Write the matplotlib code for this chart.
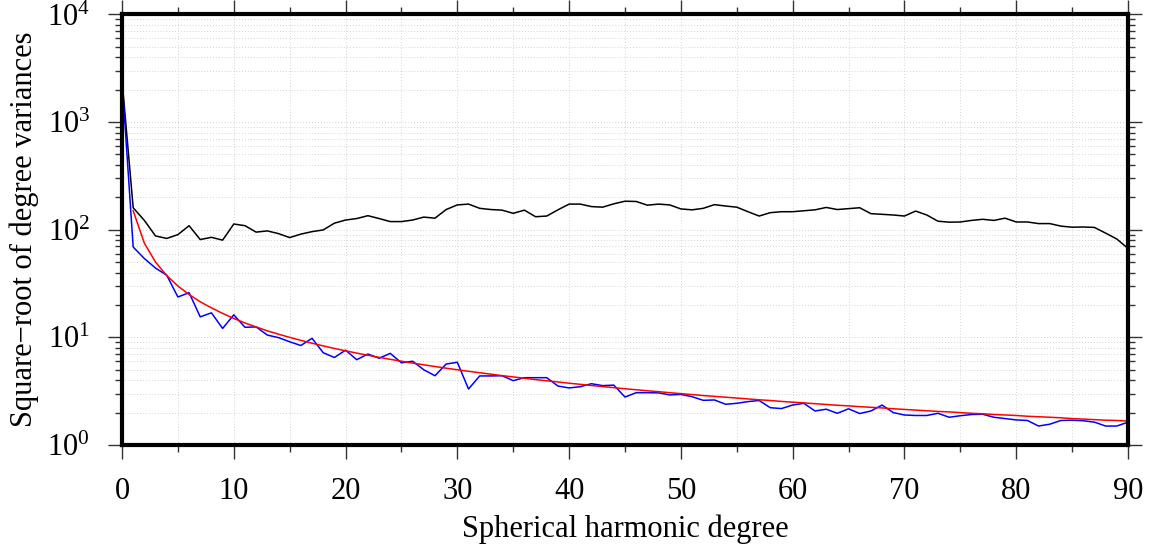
import numpy as np
import matplotlib
matplotlib.use("Agg")
import matplotlib.pyplot as plt
from matplotlib.ticker import LogLocator, MultipleLocator, NullFormatter

# Réglages police (style GMT / Times)
plt.rcParams['font.family'] = ['Liberation Serif', 'DejaVu Serif']
plt.rcParams['mathtext.fontset'] = 'custom'
plt.rcParams['mathtext.rm'] = 'Liberation Serif'
plt.rcParams['mathtext.it'] = 'Liberation Serif:italic'

# Degrés harmoniques
degres = list(range(0, 91))

# Courbe noire (signal)
signal = [2470, 160, 122, 87.5, 83, 90, 109, 81, 85, 80,
          113, 109, 95, 97.5, 92, 84.5, 91, 96, 99.5, 115,
          123, 127, 135, 127, 119, 119, 123, 131, 128, 154,
          170, 173, 158, 154, 152, 142, 152, 132, 134, 153,
          173, 173, 164, 162, 174, 184, 183, 169, 173, 170,
          156, 153, 158, 171, 166, 162, 147, 134, 144, 147,
          147, 150, 153, 161, 154, 157, 160, 141, 139, 137,
          134, 149, 137, 120, 117.5, 118, 122, 125, 122, 128,
          118, 118, 114, 114, 108, 105.5, 106, 105, 93, 82, 67]

# Courbe bleue (erreurs)
erreur = [2470, 69, 54, 44, 37.8, 23.7, 26, 15.5, 16.9, 12.1,
          16.2, 12.4, 12.5, 10.5, 9.94, 9.1, 8.4, 9.8, 7.2, 6.5,
          7.6, 6.2, 7.0, 6.4, 7.1, 5.8, 6.0, 5.0, 4.4, 5.65,
          5.87, 3.31, 4.38, 4.38, 4.4, 3.96, 4.22, 4.22, 4.22, 3.53,
          3.39, 3.48, 3.71, 3.56, 3.6, 2.79, 3.06, 3.06, 3.05, 2.92,
          2.95, 2.81, 2.60, 2.62, 2.39, 2.44, 2.53, 2.59, 2.22, 2.18,
          2.35, 2.44, 2.07, 2.15, 1.97, 2.17, 1.96, 2.07, 2.35, 2.0,
          1.90, 1.88, 1.88, 1.97, 1.81, 1.87, 1.92, 1.93, 1.81, 1.76,
          1.71, 1.69, 1.50, 1.56, 1.69, 1.70, 1.68, 1.63, 1.50, 1.50, 1.63]

# Courbe rouge (règle de Kaula), à partir du degré 1
kaula = [150, 75, 50, 37.5, 30, 25, 21.4, 18.8, 16.7, 15,
         13.6, 12.5, 11.5, 10.7, 10, 9.38, 8.82, 8.33, 7.89, 7.5,
         7.14, 6.82, 6.52, 6.25, 6.0, 5.77, 5.56, 5.36, 5.17, 5.0,
         4.84, 4.69, 4.55, 4.41, 4.29, 4.17, 4.05, 3.95, 3.85, 3.75,
         3.66, 3.57, 3.49, 3.41, 3.33, 3.26, 3.19, 3.13, 3.06, 3.0,
         2.94, 2.88, 2.83, 2.78, 2.73, 2.68, 2.63, 2.59, 2.54, 2.5,
         2.46, 2.42, 2.38, 2.34, 2.31, 2.27, 2.24, 2.21, 2.17, 2.14,
         2.11, 2.08, 2.05, 2.03, 2.0, 1.97, 1.95, 1.92, 1.90, 1.88,
         1.85, 1.83, 1.81, 1.79, 1.76, 1.74, 1.72, 1.70, 1.69, 1.67]

fig = plt.figure(figsize=(11.51, 5.45), dpi=100)
ax = fig.add_axes([0.106, 0.1835, 0.874, 0.79])

ax.set_yscale('log')
ax.set_xlim(0, 90)
ax.set_ylim(1, 1e4)

# Grille pointillée
ax.xaxis.set_major_locator(MultipleLocator(10))
ax.xaxis.set_minor_locator(MultipleLocator(5))
ax.yaxis.set_major_locator(LogLocator(base=10, numticks=10))
ax.yaxis.set_minor_locator(LogLocator(base=10, subs=np.arange(2, 10), numticks=20))
ax.yaxis.set_minor_formatter(NullFormatter())
ax.grid(True, which='both', color='#d4d4d4', linestyle=(0, (1, 2)), linewidth=0.7)
ax.set_axisbelow(True)

ax.plot(degres, signal, color='black', lw=1.1)
ax.plot(degres, erreur, color='blue', lw=1.1)
ax.plot(degres[1:], kaula, color='red', lw=1.1)

for s in ax.spines.values():
    s.set_linewidth(3)

ax.tick_params(which='both', direction='out', top=True, right=True,
               labelsize=22, width=1, color='#333333')
ax.tick_params(which='major', length=10)
ax.tick_params(which='minor', length=5)
ax.tick_params(axis='x', which='major', pad=13)
ax.tick_params(axis='y', which='major', pad=13)

ax.set_xlabel("Spherical harmonic degree", fontsize=22, labelpad=6)
ax.set_ylabel("Square\u2212root of degree variances", fontsize=22, labelpad=6)

fig.savefig("out.png", dpi=100)
